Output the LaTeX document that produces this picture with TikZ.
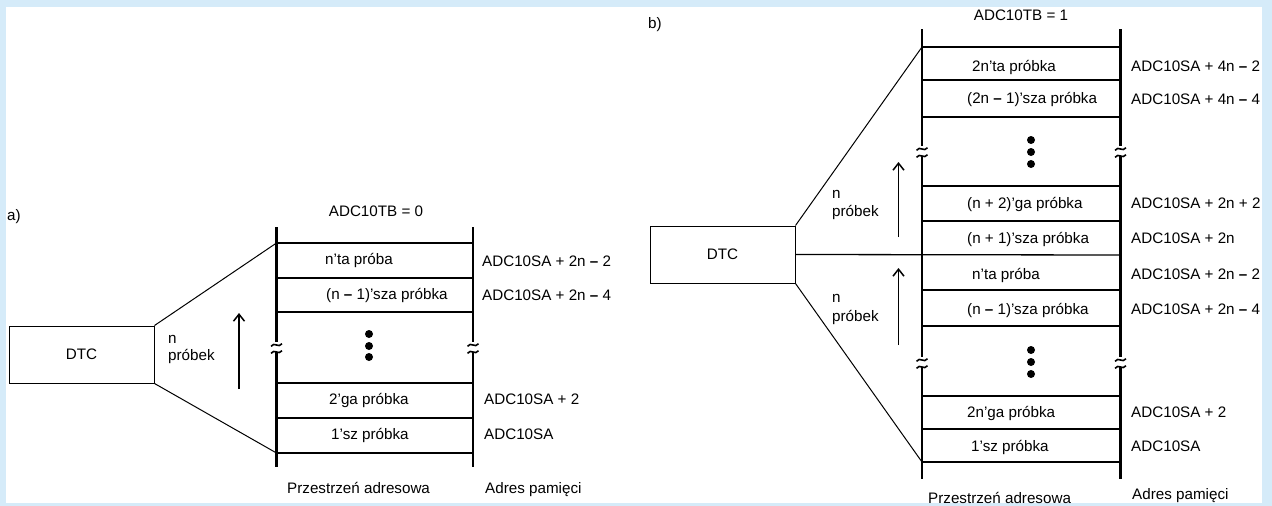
\documentclass[tikz,border=0pt]{standalone}
\usepackage{fontspec}
\setmainfont{Liberation Sans}
\usetikzlibrary{arrows.meta}
\definecolor{framebg}{RGB}{213,235,249}
\newcommand{\dsh}{\textbf{–}}
\begin{document}
\begin{tikzpicture}[x=1pt,y=-1pt,
  every node/.style={font=\fontsize{15.2}{18}\selectfont, inner sep=0pt},
  rail/.style={line width=2.5pt},
  rowline/.style={line width=1.3pt},
  funnel/.style={line width=1pt},
  dtcbox/.style={draw, line width=1pt, minimum width=145pt, minimum height=57pt},
  txt/.style={anchor=west},
  dot/.style={circle, fill, minimum size=8pt},
  upar/.style={line width=1.5pt, -{Straight Barb[length=7pt,width=11pt]}},
  brk/.pic={\draw[line width=1.6pt] (-5.5,1.3) .. controls (-2,-3.8) and (2,3.8) .. (5.5,-1.3);}
]
\useasboundingbox (0,0) rectangle (1272,506);
\fill[framebg] (0,0) rectangle (1272,506);
\fill[white] (6,7) rectangle (1262,503);

% ================= a) =================
\node[txt] (la) at (7,217) {a)};
\node (tbA) at (376,211) {ADC10TB = 0};
\node[dtcbox] (dtcA) at (81.5,354.5) {DTC};

% rails
\foreach \x/\n in {276.5/L,473/R}{
  \coordinate (aT\n) at (\x,227);
  \coordinate (aB\n) at (\x,467);
  \coordinate (aS\n) at (\x,345);
  \coordinate (aSe\n) at (\x,342);
  \coordinate (aE\n) at (\x,352);
  \draw[rail] (aT\n) -- (aSe\n);
  \draw[rail] (aE\n) -- (aB\n);
  \pic at (aS\n) {brk};
  \pic at (aE\n) {brk};
}
% row lines
\foreach \y [count=\i] in {243,278,312,383,418,453}{
  \coordinate (ar\i L) at (276.5,\y);
  \coordinate (ar\i R) at (473,\y);
  \draw[rowline] (ar\i L) -- (ar\i R);
}
\draw[funnel] (dtcA.north east) -- (ar1L);
\draw[funnel] (dtcA.south east) -- (ar6L);

\node[txt] (a1) at (325,260) {n’ta próba};
\node[txt] (a2) at (326,295) {(n \dsh{} 1)’sza próbka};
\node[txt] (a3) at (329,400) {2’ga próbka};
\node[txt] (a4) at (331,435) {1’sz próbka};

\node[txt] (aa1) at (482,261) {ADC10SA + 2n \dsh{} 2};
\node[txt] (aa2) at (482,295) {ADC10SA + 2n \dsh{} 4};
\node[txt] (aa3) at (484,399) {ADC10SA + 2};
\node[txt] (aa4) at (484,434) {ADC10SA};

\node[dot] (ad1) at (369,334) {};
\node[dot] (ad2) at (369,346) {};
\node[dot] (ad3) at (369,357) {};

\node[txt] (an1) at (168,339) {n};
\node[txt] (an2) at (168,356) {próbek};
\coordinate (aArrB) at (239,389);
\coordinate (aArrT) at (239,313);
\draw[upar] (aArrB) -- (aArrT);

\node[txt] (aps) at (287,488) {Przestrzeń adresowa};
\node[txt] (aap) at (485,490) {Adres pamięci};

% ================= b) =================
\node[txt] (lb) at (648,25) {b)};
\node (tbB) at (1021,15) {ADC10TB = 1};
\node[dtcbox] (dtcB) at (722.5,254.5) {DTC};

\foreach \x/\n in {922/L,1120.5/R}{
  \coordinate (bT\n) at (\x,29);
  \coordinate (bB\n) at (\x,479);
  \coordinate (bS\n) at (\x,149);
  \coordinate (bSe\n) at (\x,146);
  \coordinate (bE\n) at (\x,156);
  \coordinate (bS2\n) at (\x,360);
  \coordinate (bS2e\n) at (\x,357);
  \coordinate (bE2\n) at (\x,367);
  \draw[rail] (bT\n) -- (bSe\n);
  \draw[rail] (bE\n) -- (bS2e\n);
  \draw[rail] (bE2\n) -- (bB\n);
  \pic at (bS\n) {brk};
  \pic at (bE\n) {brk};
  \pic at (bS2\n) {brk};
  \pic at (bE2\n) {brk};
}
\foreach \y [count=\i] in {47,80,117,186,221,255,290,326,396,429,462}{
  \coordinate (br\i L) at (922,\y);
  \coordinate (br\i R) at (1120.5,\y);
}
\foreach \i in {1,2,3,4,5,7,8,9,10,11}{
  \draw[rowline] (br\i L) -- (br\i R);
}
\draw[rowline] (dtcB.east) -- (br6R);
\draw[funnel] (dtcB.north east) -- (br1L);
\draw[funnel] (dtcB.south east) -- (br11L);

\node[txt] (b1) at (972,67) {2n’ta próbka};
\node[txt] (b2) at (967,99) {(2n \dsh{} 1)’sza próbka};
\node[txt] (b3) at (967,204) {(n + 2)’ga próbka};
\node[txt] (b4) at (967,239) {(n + 1)’sza próbka};
\node[txt] (b5) at (972,275) {n’ta próba};
\node[txt] (b6) at (967,310) {(n \dsh{} 1)’sza próbka};
\node[txt] (b7) at (967,413) {2n’ga próbka};
\node[txt] (b8) at (971,447) {1’sz próbka};

\node[txt] (ba1) at (1131,66) {ADC10SA + 4n \dsh{} 2};
\node[txt] (ba2) at (1131,99) {ADC10SA + 4n \dsh{} 4};
\node[txt] (ba3) at (1131,203) {ADC10SA + 2n + 2};
\node[txt] (ba4) at (1131,238) {ADC10SA + 2n};
\node[txt] (ba5) at (1131,274) {ADC10SA + 2n \dsh{} 2};
\node[txt] (ba6) at (1131,309) {ADC10SA + 2n \dsh{} 4};
\node[txt] (ba7) at (1131,412) {ADC10SA + 2};
\node[txt] (ba8) at (1131,446) {ADC10SA};

\node[dot] (bd1) at (1031,140) {};
\node[dot] (bd2) at (1031,152) {};
\node[dot] (bd3) at (1031,164) {};
\node[dot] (bd4) at (1031,350) {};
\node[dot] (bd5) at (1031,362) {};
\node[dot] (bd6) at (1031,374) {};

\node[txt] (bn1) at (832,194) {n};
\node[txt] (bn2) at (832,212) {próbek};
\node[txt] (bn3) at (832,298) {n};
\node[txt] (bn4) at (832,317) {próbek};
\coordinate (bArr1B) at (898.5,237);
\coordinate (bArr1T) at (898.5,162);
\coordinate (bArr2B) at (898.5,345);
\coordinate (bArr2T) at (898.5,268);
\draw[upar] (bArr1B) -- (bArr1T);
\draw[upar] (bArr2B) -- (bArr2T);

\node[txt] (bps) at (928,498) {Przestrzeń adresowa};
\node[txt] (bap) at (1132,496) {Adres pamięci};
\end{tikzpicture}
\end{document}
